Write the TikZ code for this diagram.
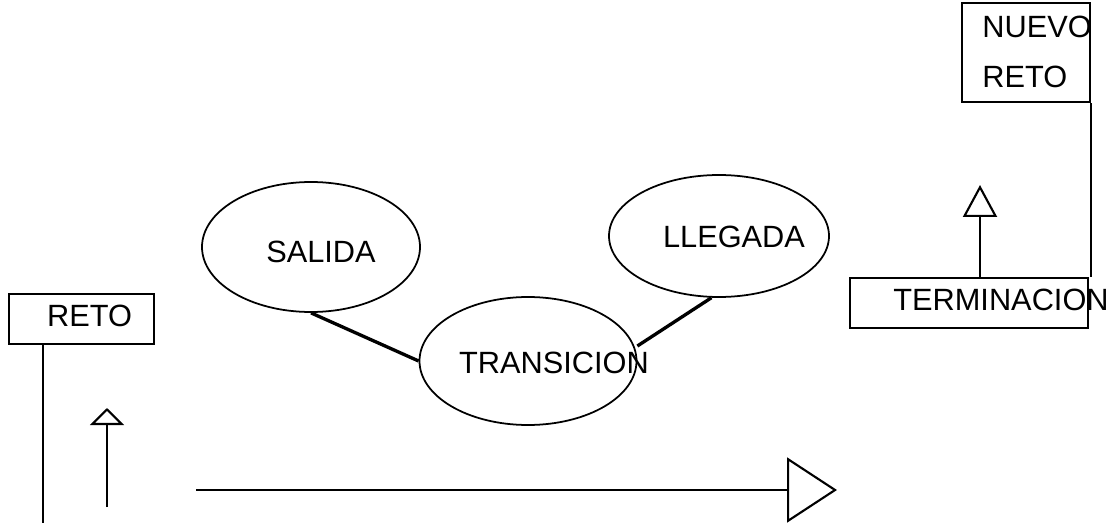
\documentclass[tikz,border=0pt]{standalone}
\usepackage{fontspec}
\setmainfont{Liberation Sans}
\usepackage{tikz}
\usetikzlibrary{arrows.meta,shapes.geometric}
\tikzset{
  lbl/.style={font=\fontsize{17.5}{28}\selectfont,inner sep=0pt},
  bx/.style={draw,line width=1.2pt,inner sep=0pt},
  ell/.style={draw,ellipse,line width=1pt,inner sep=0pt},
  link/.style={line width=1.9pt},
  up/.style={line width=1.2pt,-{Triangle[open,length=0.34cm,width=0.68cm]}},
}
\begin{document}
\begin{tikzpicture}
\useasboundingbox (0,0) rectangle (22.16,-10.54);
%boxes
\node[bx,minimum width=2.9cm,minimum height=1cm](reto)at(1.63,-6.38){};
\node[bx,minimum width=2.56cm,minimum height=1.98cm](nuevo)at(20.52,-1.05){};
\node[bx,minimum width=4.76cm,minimum height=1cm](term)at(19.38,-6.06){};
%ellipses
\node[ell,minimum width=4.36cm,minimum height=2.6cm](salida)at(6.22,-4.94){};
\node[ell,minimum width=4.34cm,minimum height=2.56cm](trans)at(10.56,-7.22){};
\node[ell,minimum width=4.4cm,minimum height=2.44cm](llegada)at(14.38,-4.72){};
%texts
\node[lbl](tReto)at(1.79,-6.32){RETO};
\node[lbl,anchor=west,align=left](tNuevo)at(19.64,-1.04){NUEVO\\RETO};
\node[lbl](tTerm)at(20.02,-6.0){TERMINACION};
\node[lbl](tSalida)at(6.42,-5.04){SALIDA};
\node[lbl](tTrans)at(11.08,-7.26){TRANSICION};
\node[lbl](tLlegada)at(14.68,-4.74){LLEGADA};
%links
\draw[link](salida.south)--(trans.west);
\draw[link](llegada.263)--([yshift=0.3cm]trans.east);
%reto line
\coordinate(retoEnd)at(0.86,-10.46);
\draw[line width=1.2pt](reto.south -| retoEnd)--(retoEnd);
\draw[line width=1.2pt](nuevo.south east)--(nuevo.south east |- term.north);
%arrows
\coordinate(a1)at(2.14,-10.14);
\coordinate(a1t)at(2.14,-8.16);
\draw[up](a1)--(a1t);
\coordinate(a2)at(19.6,-3.7);
\draw[up,-{Triangle[open,length=0.64cm,width=0.68cm]}](term.north -| a2)--(a2);
\coordinate(a3)at(3.92,-9.8);
\coordinate(a3t)at(16.74,-9.8);
\draw[line width=1.2pt,-{Triangle[open,length=1cm,width=1.3cm]}](a3)--(a3t);
\end{tikzpicture}
\end{document}
